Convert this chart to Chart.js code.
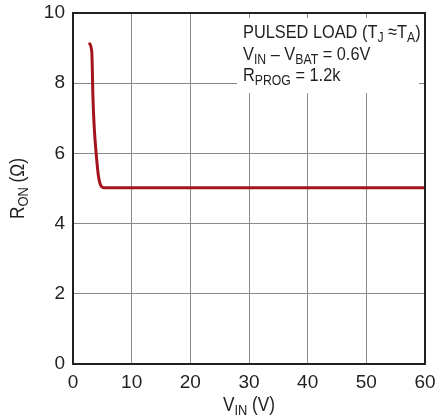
<!DOCTYPE html>
<html>
<head>
<meta charset="utf-8">
<script src="https://cdn.jsdelivr.net/npm/chart.js@4.4.0/dist/chart.umd.min.js"></script>
<style>
  html, body { margin: 0; padding: 0; background: #fff; }
  #wrap { width: 440px; height: 419px; position: relative; }
</style>
</head>
<body>
<div id="wrap"><canvas id="ron-chart"></canvas></div>
<script>
"use strict";
// data
const vin = [2.7, 3.2, 3.4, 3.6, 3.8, 4.0, 4.3, 4.7, 5.3, 10, 20, 30, 40, 50, 60];
const ron = [9.15, 8.9, 7.6, 6.8, 6.3, 5.9, 5.4, 5.1, 5.02, 5.02, 5.02, 5.02, 5.02, 5.02, 5.02];
const xTicks = [0, 10, 20, 30, 40, 50, 60];
const yTicks = [0, 2, 4, 6, 8, 10];

const FONT = "'Liberation Sans', Arial, sans-serif";
const INK = "#231f20";
const SQUEEZE = 0.86; // condensed look for the hand drawn text
const points = vin.map(function (v, i) { return { x: v, y: ron[i] }; });

// draw text runs with subscripts (squeezed horizontally)
function drawRuns(ctx, runs, x, y, size) {
  ctx.save();
  ctx.translate(x, y);
  ctx.scale(SQUEEZE, 1);
  let cx = 0;
  for (let i = 0; i < runs.length; i++) {
    const sub = runs[i][1];
    ctx.font = (sub ? size * 0.75 : size) + "px " + FONT;
    ctx.fillText(runs[i][0], cx, sub ? size * 0.22 : 0);
    cx += ctx.measureText(runs[i][0]).width;
  }
  ctx.restore();
  return cx * SQUEEZE;
}
function runsWidth(ctx, runs, size) {
  let w = 0;
  for (let i = 0; i < runs.length; i++) {
    ctx.font = (runs[i][1] ? size * 0.75 : size) + "px " + FONT;
    w += ctx.measureText(runs[i][0]).width;
  }
  return w * SQUEEZE;
}

// frame, note box and axis titles
const extras = {
  id: "extras",
  beforeDatasetsDraw(chart) {
    const ctx = chart.ctx;
    const a = chart.chartArea;
    // white box behind the note
    ctx.save();
    ctx.fillStyle = "#fff";
    ctx.fillRect(a.right - 188, a.top + 5, 182, 75);
    ctx.restore();
  },
  afterDraw(chart) {
    const ctx = chart.ctx;
    const a = chart.chartArea;
    ctx.save();
    ctx.strokeStyle = INK;
    ctx.lineWidth = 2;
    ctx.strokeRect(a.left, a.top, a.right - a.left, a.bottom - a.top);

    ctx.fillStyle = INK;
    ctx.textBaseline = "alphabetic";
    ctx.textAlign = "left";
    const nx = a.right - 182;
    drawRuns(ctx, [["PULSED LOAD (T", 0], ["J", 1], [" \u2248T", 0], ["A", 1], [")", 0]], nx, a.top + 25, 19);
    drawRuns(ctx, [["V", 0], ["IN", 1], [" \u2013 V", 0], ["BAT", 1], [" = 0.6V", 0]], nx, a.top + 46.5, 19);
    drawRuns(ctx, [["R", 0], ["PROG", 1], [" = 1.2k", 0]], nx, a.top + 68, 19);

    // x title
    const xr = [["V", 0], ["IN", 1], [" (V)", 0]];
    const xw = runsWidth(ctx, xr, 20);
    drawRuns(ctx, xr, (a.left + a.right) / 2 - xw / 2, 411, 20);

    // y title
    const yr = [["R", 0], ["ON", 1], [" (\u03a9)", 0]];
    const yw = runsWidth(ctx, yr, 20);
    ctx.translate(24, (a.top + a.bottom) / 2);
    ctx.rotate(-Math.PI / 2);
    drawRuns(ctx, yr, -yw / 2, 0, 20);
    ctx.restore();
  }
};

const ctx = document.getElementById("ron-chart").getContext("2d");

new Chart(ctx, {
  type: "line",
  data: {
    datasets: [
      {
        data: points,
        borderColor: "#a3141f",
        borderWidth: 3,
        pointRadius: 0,
        cubicInterpolationMode: "monotone",
        fill: false,
      },
    ],
  },
  options: {
    responsive: true,
    maintainAspectRatio: false,
    animation: false,
    layout: { padding: { top: 13, right: 15, left: 0, bottom: 0 } },
    plugins: {
      legend: { display: false },
      tooltip: { enabled: false },
    },
    scales: {
      x: {
        type: "linear",
        min: 0,
        max: 60,
        afterBuildTicks: function (s) { s.ticks = xTicks.map(function (v) { return { value: v }; }); },
        afterFit: function (s) { s.height = 55; s.paddingLeft = 0; s.paddingRight = 0; },
        grid: { color: "#8a8a8a", lineWidth: 1, drawTicks: false },
        border: { color: INK, width: 2 },
        ticks: { color: INK, padding: 7, font: { family: FONT, size: 19 } },
      },
      y: {
        type: "linear",
        min: 0,
        max: 10,
        afterBuildTicks: function (s) { s.ticks = yTicks.map(function (v) { return { value: v }; }); },
        afterFit: function (s) { s.width = 73; s.paddingTop = 0; s.paddingBottom = 0; },
        grid: { color: "#8a8a8a", lineWidth: 1, drawTicks: false },
        border: { color: INK, width: 2 },
        ticks: { color: INK, padding: 8, font: { family: FONT, size: 19 } },
      },
    },
  },
  plugins: [extras],
});
</script>
</body>
</html>
